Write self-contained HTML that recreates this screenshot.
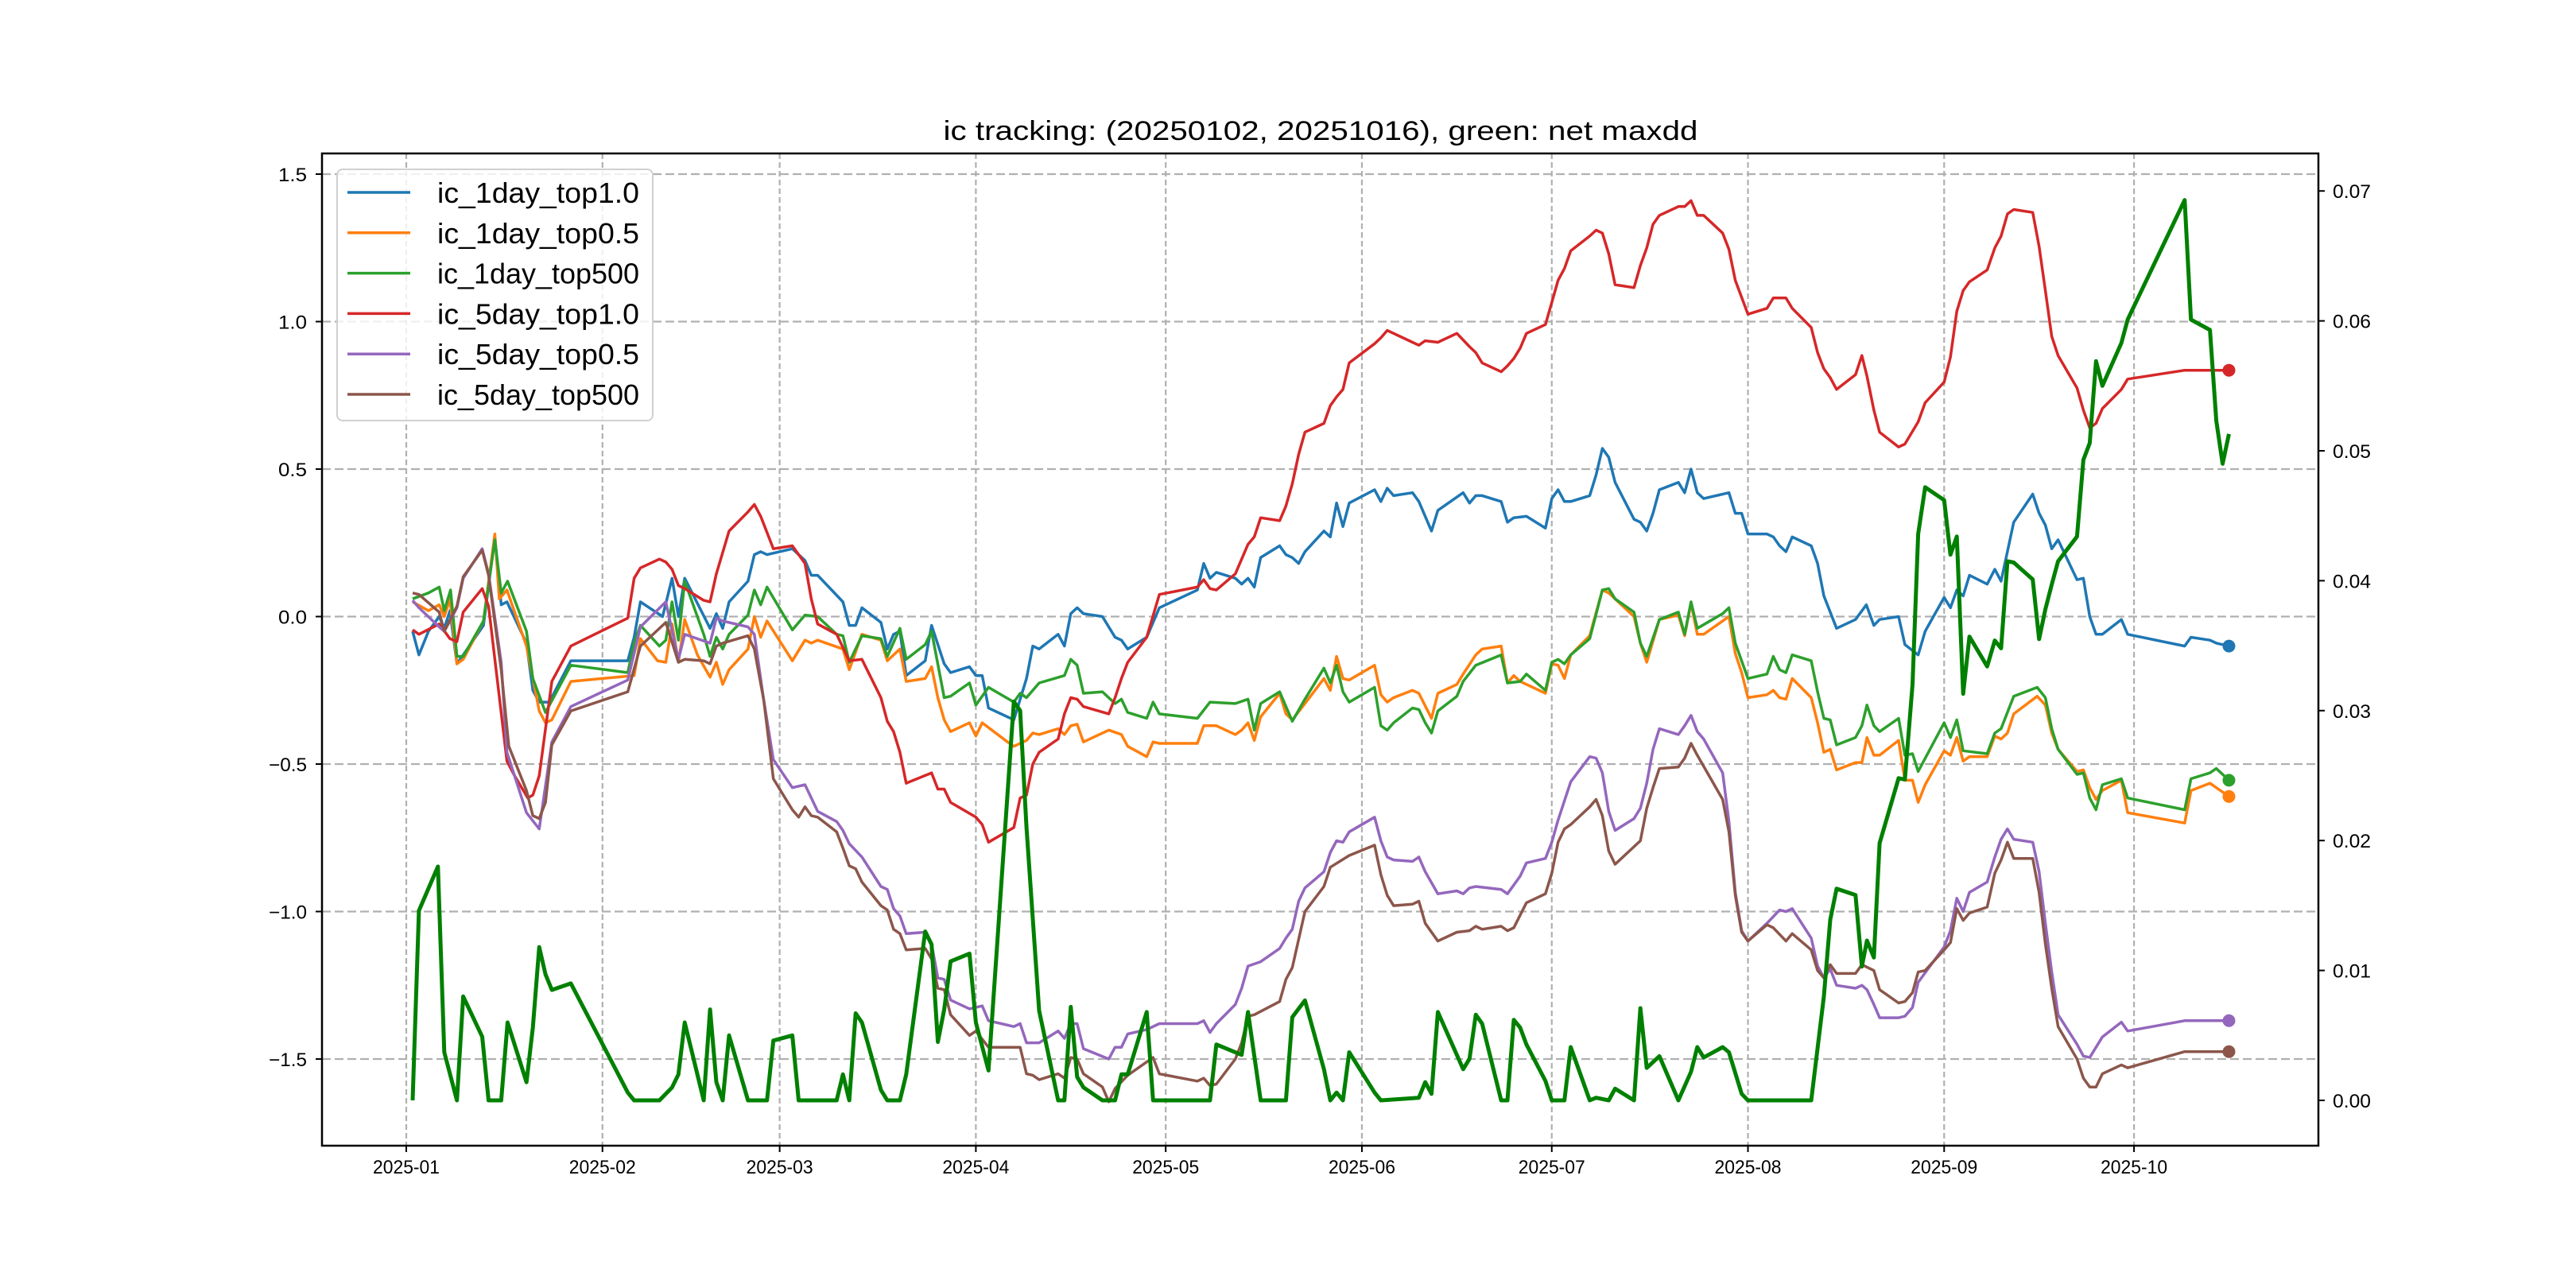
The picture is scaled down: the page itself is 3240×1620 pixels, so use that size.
<!DOCTYPE html>
<html><head><meta charset="utf-8"><title>ic tracking</title>
<style>html,body{margin:0;padding:0;background:#fff;}svg{display:block;}
text{font-family:"Liberation Sans","WenQuanYi Zen Hei",sans-serif;fill:#000;}</style></head>
<body>
<svg id="chart" width="3240" height="1620" viewBox="0 0 3240 1620" xmlns="http://www.w3.org/2000/svg">
<rect x="0" y="0" width="3240" height="1620" fill="#fff"/>
<text x="1661" y="176" font-size="34" text-anchor="middle" textLength="949" lengthAdjust="spacingAndGlyphs">ic tracking: (20250102, 20251016), green: net maxdd</text>
<g id="grid"></g>
<g id="series"></g>
<g id="axes"></g>
<g id="legend"></g>
</svg>
<script>
const monthLabels=["2025-01","2025-02","2025-03","2025-04","2025-05","2025-06","2025-07","2025-08","2025-09","2025-10"];
const monthDays=[0,31,59,90,120,151,181,212,243,273];
const leftTicks=[1.5,1.0,0.5,0.0,-0.5,-1.0,-1.5];
const rightTicks=[0,0.01,0.02,0.03,0.04,0.05,0.06,0.07];
const seriesNames=["ic_1day_top1.0","ic_1day_top0.5","ic_1day_top500","ic_5day_top1.0","ic_5day_top0.5","ic_5day_top500"];
const seriesColors=["#1f77b4","#ff7f0e","#2ca02c","#d62728","#9467bd","#8c564b"];
const blue=[[1,-0.05],[2,-0.13],[3.5,-0.05],[5.2,0],[6,-0.04],[6.9,0.02],[8,-0.16],[9,-0.13],[12.2,-0.03],[14,0.27],[15,0.04],[15.9,0.05],[19,-0.09],[20,-0.25],[21,-0.29],[22.6,-0.29],[26,-0.15],[35,-0.15],[36,-0.07],[37,0.05],[40.5,0],[42,0.13],[43,0],[44,0.13],[48,-0.04],[49,0.01],[50,-0.04],[51,0.05],[54,0.12],[55,0.21],[56,0.22],[57,0.21],[59,0.22],[61,0.23],[63,0.19],[64,0.14],[65,0.14],[69,0.05],[70,-0.03],[71,-0.03],[72,0.03],[75,-0.02],[76,-0.11],[77,-0.06],[78,-0.05],[79,-0.2],[82,-0.15],[83,-0.03],[85,-0.16],[86,-0.19],[89,-0.17],[90,-0.2],[91,-0.2],[92,-0.31],[96,-0.35],[98,-0.21],[99,-0.1],[100,-0.11],[103,-0.06],[104,-0.1],[105,0.01],[106,0.03],[107,0.01],[110,0],[112,-0.07],[113,-0.08],[114,-0.11],[117,-0.07],[119,0.03],[125,0.09],[126,0.18],[127,0.13],[128,0.15],[131,0.13],[132,0.11],[133,0.13],[134,0.1],[135,0.2],[138,0.24],[139,0.21],[140,0.2],[141,0.18],[142,0.22],[145,0.29],[146,0.27],[147,0.385],[148,0.305],[149,0.385],[153,0.43],[154,0.39],[155,0.435],[156,0.41],[159,0.42],[160,0.39],[162,0.29],[163,0.36],[167,0.42],[168,0.385],[169,0.41],[170,0.41],[173,0.39],[174,0.32],[175,0.335],[177,0.34],[180,0.3],[181,0.4],[182,0.43],[183,0.39],[184,0.39],[187,0.41],[188,0.48],[189,0.57],[190,0.54],[191,0.455],[194,0.33],[195,0.32],[196,0.29],[197,0.35],[198,0.43],[201,0.455],[202,0.42],[203,0.5],[204,0.42],[205,0.4],[209,0.42],[210,0.35],[211,0.35],[212,0.28],[215,0.28],[216,0.27],[217,0.24],[218,0.22],[219,0.27],[222,0.24],[223,0.18],[224,0.07],[226,-0.04],[229,-0.01],[230.7,0.04],[231.9,-0.03],[232.8,-0.01],[235.8,0],[236.8,-0.095],[238.9,-0.13],[240,-0.05],[243,0.065],[244,0.03],[245,0.09],[246,0.07],[247,0.14],[249.8,0.11],[251,0.16],[252,0.12],[254,0.32],[257,0.415],[258,0.35],[259,0.31],[260,0.23],[261,0.26],[264,0.125],[265,0.13],[266,0],[267,-0.06],[268,-0.06],[271,-0.01],[272,-0.06],[281,-0.1],[282,-0.07],[285,-0.08],[286,-0.09],[288,-0.1]];
const orange=[[1,0.05],[3.5,0.02],[5.2,0.04],[6,0],[6.9,0.06],[8,-0.16],[9,-0.145],[12.2,-0.015],[14,0.28],[14.7,0.06],[15.9,0.09],[19,-0.1],[21,-0.32],[22,-0.36],[23,-0.35],[26,-0.22],[36,-0.2],[37,-0.075],[39.7,-0.15],[41,-0.155],[42,-0.025],[43,-0.155],[44,-0.01],[46,-0.13],[48,-0.205],[49,-0.155],[50,-0.23],[51,-0.18],[54,-0.11],[55,0],[56,-0.07],[57,-0.015],[61,-0.15],[63,-0.08],[64,-0.09],[65,-0.08],[69,-0.11],[70,-0.18],[72,-0.06],[75,-0.08],[76,-0.15],[78,-0.11],[79,-0.22],[82,-0.21],[83,-0.17],[84,-0.275],[85,-0.35],[86,-0.39],[89,-0.36],[90,-0.405],[91,-0.36],[95,-0.425],[96,-0.44],[98,-0.42],[99,-0.395],[100,-0.4],[103,-0.38],[104,-0.4],[105,-0.37],[106,-0.365],[107,-0.425],[111,-0.385],[113,-0.4],[114,-0.44],[117,-0.475],[118,-0.425],[119,-0.43],[125,-0.43],[126,-0.37],[128,-0.37],[131,-0.4],[132,-0.385],[133,-0.36],[134,-0.42],[135,-0.34],[138,-0.26],[139,-0.33],[140,-0.35],[142,-0.295],[145,-0.21],[146,-0.25],[147,-0.135],[148,-0.21],[149,-0.215],[153,-0.165],[154,-0.265],[155,-0.29],[156,-0.275],[159,-0.25],[160,-0.26],[162,-0.345],[163,-0.26],[166,-0.23],[167,-0.195],[169,-0.13],[170,-0.11],[173,-0.1],[174,-0.225],[175,-0.2],[176,-0.22],[180,-0.26],[181,-0.16],[182,-0.165],[183,-0.21],[184,-0.13],[187,-0.065],[189,0.09],[190,0.08],[194,0],[195,-0.09],[196,-0.155],[198,-0.01],[201,0.005],[202,-0.065],[203,0.045],[204,-0.06],[205,-0.06],[209,0],[210,-0.125],[211,-0.19],[212,-0.275],[215,-0.265],[216,-0.25],[217,-0.275],[218,-0.28],[219,-0.21],[222,-0.275],[223,-0.36],[224,-0.46],[225,-0.45],[226,-0.52],[229,-0.495],[230,-0.495],[230.8,-0.41],[231.9,-0.47],[232.8,-0.47],[235.8,-0.42],[236.8,-0.555],[238,-0.555],[238.9,-0.63],[240,-0.57],[243,-0.455],[244,-0.47],[245,-0.41],[246,-0.49],[247,-0.475],[249.8,-0.475],[251,-0.405],[252,-0.415],[253,-0.395],[254,-0.33],[257.7,-0.27],[259,-0.3],[260,-0.395],[261,-0.45],[264,-0.525],[265,-0.52],[266,-0.58],[267,-0.62],[268,-0.59],[271,-0.555],[272,-0.665],[281,-0.7],[282,-0.59],[285,-0.565],[286,-0.58],[288,-0.61]];
const green=[[1,0.06],[3.5,0.08],[5.2,0.1],[6,0.02],[7,0.09],[8,-0.135],[9,-0.135],[12.2,-0.015],[14,0.26],[15,0.08],[16,0.12],[19,-0.05],[20,-0.21],[22,-0.325],[26,-0.165],[35,-0.19],[36,-0.09],[37,-0.03],[40,-0.1],[41,-0.08],[42,0.05],[43,-0.08],[44,0.12],[47,-0.06],[48,-0.135],[49,-0.07],[50,-0.11],[51,-0.06],[54,0.005],[55,0.09],[56,0.04],[57,0.1],[61,-0.045],[63,0.005],[65,0],[68,-0.06],[69,-0.065],[70,-0.155],[72,-0.065],[75,-0.075],[76,-0.135],[78,-0.04],[79,-0.145],[82,-0.095],[83,-0.05],[85,-0.275],[86,-0.27],[89,-0.225],[90,-0.3],[92,-0.24],[96,-0.29],[97,-0.26],[98,-0.275],[100,-0.225],[104,-0.2],[105,-0.145],[106,-0.165],[107,-0.26],[110,-0.255],[112,-0.295],[113,-0.28],[114,-0.325],[117,-0.345],[118,-0.29],[119,-0.33],[125,-0.345],[127,-0.29],[131,-0.295],[133,-0.28],[134,-0.385],[135,-0.295],[138,-0.255],[140,-0.355],[142,-0.28],[145,-0.175],[146,-0.225],[147,-0.165],[148,-0.255],[149,-0.29],[153,-0.24],[154,-0.37],[155,-0.385],[156,-0.36],[159,-0.31],[160,-0.315],[161,-0.36],[162,-0.395],[163,-0.32],[166,-0.27],[167,-0.22],[169,-0.165],[173,-0.13],[174,-0.225],[176,-0.22],[177,-0.195],[180,-0.25],[181,-0.155],[182,-0.145],[183,-0.16],[184,-0.13],[187,-0.075],[189,0.09],[190,0.095],[191,0.06],[194,0.015],[195,-0.09],[196,-0.135],[198,-0.01],[201,0.015],[202,-0.06],[203,0.05],[204,-0.04],[208,0.01],[209,0.03],[210,-0.09],[212,-0.21],[215,-0.195],[216,-0.135],[217,-0.18],[218,-0.19],[219,-0.13],[222,-0.15],[223,-0.255],[224,-0.345],[225,-0.35],[226,-0.435],[229,-0.41],[230,-0.37],[230.8,-0.3],[231.9,-0.37],[232.8,-0.39],[235.8,-0.345],[236.8,-0.47],[238,-0.465],[238.9,-0.525],[243,-0.36],[244,-0.41],[245,-0.35],[246,-0.455],[249.8,-0.465],[251,-0.395],[252,-0.38],[254,-0.27],[257.7,-0.24],[259,-0.275],[260,-0.38],[261,-0.45],[264,-0.535],[265,-0.53],[266,-0.615],[267,-0.655],[268,-0.57],[271,-0.55],[272,-0.615],[281,-0.655],[282,-0.55],[285,-0.53],[286,-0.515],[288,-0.555]];
const red=[[1,-0.045],[2,-0.06],[5.2,-0.025],[6.9,-0.075],[8,-0.085],[9,0.015],[12,0.095],[13,0.035],[15.9,-0.49],[17,-0.535],[19.2,-0.615],[20,-0.605],[21,-0.54],[23,-0.22],[26,-0.1],[35,-0.005],[36,0.13],[37,0.165],[40,0.195],[41,0.185],[42,0.16],[43,0.105],[44,0.095],[47,0.055],[48,0.05],[49,0.145],[51,0.29],[54,0.355],[55,0.38],[56,0.34],[58,0.23],[61,0.24],[63,0.18],[64,0.06],[65,-0.025],[68,-0.06],[70,-0.15],[72,-0.145],[75,-0.275],[76,-0.355],[77,-0.39],[78,-0.46],[79,-0.565],[83,-0.53],[84,-0.585],[85,-0.585],[86,-0.63],[90,-0.68],[91,-0.705],[92,-0.765],[96,-0.715],[97,-0.615],[98,-0.605],[99,-0.5],[100,-0.46],[103,-0.415],[104,-0.33],[105,-0.275],[106,-0.28],[107,-0.305],[111,-0.33],[112,-0.275],[113,-0.21],[114,-0.155],[117,-0.07],[119,0.075],[125,0.1],[126,0.125],[127,0.095],[128,0.09],[131,0.145],[133,0.245],[134,0.27],[135,0.335],[138,0.325],[139,0.375],[140,0.45],[141,0.55],[142,0.625],[145,0.655],[146,0.715],[147,0.745],[148,0.77],[149,0.86],[153,0.925],[154,0.945],[155,0.97],[159,0.93],[160,0.92],[161,0.935],[163,0.93],[166,0.96],[168,0.915],[169,0.895],[170,0.86],[173,0.83],[174,0.85],[175,0.875],[176,0.91],[177,0.96],[180,0.99],[181,1.065],[182,1.14],[183,1.18],[184,1.24],[187,1.29],[188,1.31],[189,1.3],[190,1.23],[191,1.125],[194,1.115],[195,1.19],[196,1.25],[197,1.33],[198,1.36],[201,1.39],[202,1.39],[203,1.41],[204,1.36],[205,1.36],[208,1.3],[209,1.245],[210,1.14],[212,1.025],[215,1.045],[216,1.08],[218,1.08],[219,1.045],[222,0.98],[223,0.895],[224,0.84],[225,0.81],[226,0.77],[229,0.82],[230,0.885],[230.8,0.815],[231.9,0.7],[232.8,0.625],[235.8,0.575],[236.8,0.585],[238.9,0.66],[240,0.725],[243,0.795],[244,0.88],[245,1.035],[246,1.105],[247,1.135],[249.8,1.175],[251,1.25],[252,1.29],[253,1.365],[254,1.38],[257,1.37],[258,1.255],[259,1.105],[260,0.95],[261,0.885],[264,0.775],[265,0.7],[266,0.64],[267,0.655],[268,0.705],[271,0.77],[272,0.805],[281,0.835],[288,0.835]];
const purple=[[1,0.055],[2,0.03],[5.2,-0.035],[6,-0.05],[8,0.03],[9,0.13],[12,0.23],[13,0.145],[15,-0.155],[15.9,-0.46],[19,-0.665],[21,-0.72],[23,-0.425],[26,-0.305],[35,-0.215],[37,-0.035],[41,0.05],[43,-0.145],[44,-0.06],[48,-0.09],[49,-0.005],[50,-0.015],[54,-0.035],[55,-0.06],[56.5,-0.285],[58,-0.485],[61,-0.58],[63,-0.57],[65,-0.66],[68,-0.695],[69,-0.725],[70,-0.77],[72,-0.815],[75,-0.915],[76,-0.925],[77,-0.99],[78,-1.015],[79,-1.075],[82,-1.07],[83,-1.11],[84,-1.225],[85,-1.23],[86,-1.3],[89,-1.33],[91,-1.32],[92,-1.37],[96,-1.39],[97,-1.38],[98,-1.445],[100,-1.445],[103,-1.405],[104,-1.43],[105,-1.38],[106,-1.38],[107,-1.465],[111,-1.5],[112,-1.46],[113,-1.46],[114,-1.415],[117,-1.4],[119,-1.38],[125,-1.38],[126,-1.37],[127,-1.41],[128,-1.38],[131,-1.315],[132,-1.26],[133,-1.185],[135,-1.17],[138,-1.125],[139,-1.09],[140,-1.06],[141,-0.965],[142,-0.92],[145,-0.865],[146,-0.8],[147,-0.76],[148,-0.765],[149,-0.73],[153,-0.68],[154,-0.76],[155,-0.815],[156,-0.825],[159,-0.83],[160,-0.815],[161,-0.865],[163,-0.94],[166,-0.93],[167,-0.94],[168,-0.92],[169,-0.915],[173,-0.925],[174,-0.94],[176,-0.88],[177,-0.835],[180,-0.82],[181,-0.765],[182,-0.69],[184,-0.56],[187,-0.475],[188,-0.48],[189,-0.53],[190,-0.66],[191,-0.725],[194,-0.685],[195,-0.65],[196,-0.565],[197,-0.45],[198,-0.38],[201,-0.4],[202,-0.37],[203,-0.335],[204,-0.39],[205,-0.415],[208,-0.53],[209,-0.695],[210,-0.935],[211,-1.065],[212,-1.1],[215,-1.04],[217,-0.995],[218,-1.0],[219,-0.99],[222,-1.09],[223,-1.185],[224,-1.225],[225,-1.195],[226,-1.25],[229,-1.26],[230,-1.25],[230.8,-1.265],[231.9,-1.315],[232.8,-1.36],[235.8,-1.36],[236.8,-1.355],[238,-1.325],[238.9,-1.24],[243,-1.12],[244,-1.065],[245,-0.955],[246,-1.0],[247,-0.935],[249.8,-0.9],[251,-0.815],[252,-0.755],[253,-0.72],[254,-0.755],[257,-0.765],[258,-0.865],[259,-1.04],[260,-1.205],[261,-1.35],[264,-1.45],[265,-1.49],[266,-1.495],[267,-1.46],[268,-1.425],[271,-1.375],[272,-1.405],[281,-1.37],[288,-1.37]];
const brown=[[1,0.08],[2,0.075],[5.2,0.015],[6,-0.05],[8,0.035],[9,0.135],[12,0.225],[13,0.14],[15,-0.18],[16.2,-0.44],[19,-0.59],[20,-0.675],[21,-0.685],[22,-0.63],[23,-0.435],[26,-0.32],[35,-0.255],[37,-0.1],[41,-0.02],[43,-0.155],[44,-0.145],[47,-0.15],[48,-0.16],[49,-0.1],[50,-0.09],[54,-0.065],[55,-0.11],[56.5,-0.285],[58,-0.55],[61,-0.655],[62,-0.68],[63,-0.645],[64,-0.675],[65,-0.68],[68,-0.73],[69,-0.785],[70,-0.845],[71,-0.855],[72,-0.9],[75,-0.98],[76,-0.995],[77,-1.06],[78,-1.075],[79,-1.13],[82,-1.125],[83,-1.16],[84,-1.26],[85,-1.265],[86,-1.35],[89,-1.42],[90,-1.405],[92,-1.46],[97,-1.46],[98,-1.55],[99,-1.555],[100,-1.57],[103,-1.55],[104,-1.565],[105,-1.495],[106,-1.5],[107,-1.55],[110,-1.595],[111,-1.645],[112,-1.6],[114,-1.555],[118,-1.495],[119,-1.55],[125,-1.575],[126,-1.565],[127,-1.59],[128,-1.585],[131,-1.5],[132,-1.445],[133,-1.355],[134,-1.35],[138,-1.305],[139,-1.23],[140,-1.19],[142,-1.0],[145,-0.915],[146,-0.85],[149,-0.81],[153,-0.775],[154,-0.875],[155,-0.945],[156,-0.98],[159,-0.975],[160,-0.965],[161,-1.04],[163,-1.1],[166,-1.07],[168,-1.065],[169,-1.05],[170,-1.06],[173,-1.05],[174,-1.065],[175,-1.055],[177,-0.97],[180,-0.94],[181,-0.87],[182,-0.765],[183,-0.72],[184,-0.705],[187,-0.645],[188,-0.62],[189,-0.675],[190,-0.795],[191,-0.84],[195,-0.76],[196,-0.65],[197,-0.58],[198,-0.515],[201,-0.51],[202,-0.48],[203,-0.43],[204,-0.47],[208,-0.62],[209,-0.73],[210,-0.945],[211,-1.07],[212,-1.1],[215,-1.045],[216,-1.055],[218,-1.1],[219,-1.075],[222,-1.13],[223,-1.2],[224,-1.225],[225,-1.18],[226,-1.21],[229,-1.21],[230,-1.18],[231.9,-1.2],[232.8,-1.265],[235.8,-1.31],[236.8,-1.305],[238,-1.275],[238.9,-1.205],[240,-1.2],[243,-1.13],[244,-1.105],[245,-0.99],[246,-1.03],[247,-1.005],[249.8,-0.985],[251,-0.87],[252,-0.825],[253,-0.765],[254,-0.82],[257,-0.82],[258,-0.935],[259,-1.11],[260,-1.26],[261,-1.39],[264,-1.5],[265,-1.565],[266,-1.595],[267,-1.595],[268,-1.55],[271,-1.52],[272,-1.53],[281,-1.475],[288,-1.475]];
const maxdd=[[1,0],[2,0.0146],[5,0.018],[6,0.0037],[8,0],[9,0.008],[12,0.0049],[13,0],[15,0],[16,0.006],[19,0.0014],[20,0.0056],[21,0.0118],[22,0.0097],[23,0.0085],[26,0.009],[35,0.0006],[36,0],[40,0],[42,0.001],[43,0.002],[44,0.006],[47,0],[48,0.007],[49,0.0014],[50,0],[51,0.005],[54,0],[57,0],[58,0.0046],[61,0.005],[62,0],[68,0],[69,0.002],[70,0],[71,0.0067],[72,0.006],[75,0.0008],[76,0],[78,0],[79,0.002],[82,0.013],[83,0.012],[84,0.0045],[85,0.007],[86,0.0107],[89,0.0113],[90,0.006],[92,0.0023],[96,0.0307],[97,0.03],[98,0.021],[100,0.0069],[103,0],[104,0],[105,0.0072],[106,0.0018],[107,0.001],[110,0],[112,0],[113,0.002],[114,0.002],[117,0.0068],[118,0],[127,0],[128,0.0043],[132,0.0035],[133,0.0068],[135,0],[139,0],[140,0.0064],[142,0.0077],[145,0.0024],[146,0],[147,0.0006],[148,0],[149,0.0037],[153,0.0006],[154,0],[160,0.0002],[161,0.0014],[162,0.0005],[163,0.0068],[167,0.0024],[168,0.0032],[169,0.0066],[170,0.0059],[173,0],[174,0],[175,0.0062],[176,0.0056],[177,0.0043],[180,0.0015],[181,0],[183,0],[184,0.0041],[187,0],[188,0.0002],[190,0],[191,0.0009],[194,0],[195,0.0071],[196,0.0025],[198,0.0034],[201,0],[203,0.0022],[204,0.0041],[205,0.0033],[208,0.0041],[209,0.0037],[211,0.0005],[212,0],[222,0],[224,0.008],[225,0.0139],[226,0.0163],[229,0.0158],[230,0.0103],[230.8,0.0123],[231.9,0.011],[232.8,0.0198],[235.8,0.0248],[236.8,0.0247],[238,0.032],[238.9,0.0436],[240,0.0472],[243,0.0462],[244,0.042],[245,0.0434],[246,0.0313],[247,0.0357],[249.8,0.0334],[251,0.0354],[252,0.0348],[253,0.0415],[254,0.0414],[257,0.0401],[258,0.0355],[259,0.0378],[260,0.0397],[261,0.0415],[264,0.0434],[265,0.0493],[266,0.0506],[267,0.0569],[268,0.055],[271,0.0583],[272,0.0601],[281,0.0693],[282,0.0601],[285,0.0593],[286,0.0523],[287,0.049],[288,0.0513]];

const NS="http://www.w3.org/2000/svg";
const PL=405,PR=2916,PT=193,PB=1441;
function xOf(d){return 511+7.96*d;}
function yL(v){return 775.5-371*v;}
function yR(r){return 1384-16340*r;}
function mk(tag,attrs,parent){const e=document.createElementNS(NS,tag);for(const k in attrs)e.setAttribute(k,attrs[k]);parent.appendChild(e);return e;}
const grid=document.getElementById('grid'),ser=document.getElementById('series'),axes=document.getElementById('axes'),leg=document.getElementById('legend');

monthDays.forEach((d,i)=>{
  const x=xOf(d);
  const g=mk('line',{x1:x,x2:x,y1:PT,y2:PB,stroke:'#b0b0b0','stroke-width':2.2,'stroke-dasharray':'7,4'},grid);
  
  
  const t=mk('line',{x1:x,x2:x,y1:PB,y2:PB+8,stroke:'#000','stroke-width':2},axes);
  
  
  const l=mk('text',{x:x,y:1476,'font-size':24,'text-anchor':'middle',textLength:84,lengthAdjust:'spacingAndGlyphs'},axes);
  l.textContent=monthLabels[i];
  
  
});
leftTicks.forEach(v=>{
  const y=yL(v);
  const g=mk('line',{x1:PL,x2:PR,y1:y,y2:y,stroke:'#b0b0b0','stroke-width':2.2,'stroke-dasharray':'11,5'},grid);
  
  
  const t=mk('line',{x1:PL-8,x2:PL,y1:y,y2:y,stroke:'#000','stroke-width':2},axes);
  
  
  const s=(v<0?'\u2212':'')+Math.abs(v).toFixed(1);
  const l=mk('text',{x:PL-19,y:y+9,'font-size':24,'text-anchor':'end',textLength:s.length*12,lengthAdjust:'spacingAndGlyphs'},axes);
  l.textContent=s;
  
  
});
rightTicks.forEach(v=>{
  const y=yR(v);
  const t=mk('line',{x1:PR,x2:PR+8,y1:y,y2:y,stroke:'#000','stroke-width':2},axes);
  
  
  const l=mk('text',{x:PR+18,y:y+9,'font-size':24,textLength:48,lengthAdjust:'spacingAndGlyphs'},axes);
  l.textContent=v.toFixed(2);
  
  
});

const allSeries=[blue,orange,green,red,purple,brown];
allSeries.forEach((s,i)=>{
  const pts=s.map(p=>xOf(p[0]).toFixed(1)+','+yL(p[1]).toFixed(1)).join(' ');
  const pl=mk('polyline',{points:pts,fill:'none',stroke:seriesColors[i],'stroke-width':3.5,'stroke-linejoin':'round'},ser);
  
  
  const last=s[s.length-1];
  const c=mk('circle',{cx:xOf(last[0]),cy:yL(last[1]),r:8,fill:seriesColors[i]},ser);
  
  
});
const mpts=maxdd.map(p=>xOf(p[0]).toFixed(1)+','+yR(p[1]).toFixed(1)).join(' ');
const mline=mk('polyline',{points:mpts,fill:'none',stroke:'#008000','stroke-width':5,'stroke-linejoin':'round'},ser);



const frame=mk('rect',{x:PL,y:PT,width:PR-PL,height:PB-PT,fill:'none',stroke:'#000','stroke-width':2.5},axes);



const box=mk('rect',{x:424,y:213,width:397,height:316,rx:7,fill:'#fff','fill-opacity':0.8,stroke:'#d0d0d0','stroke-width':2},leg);


seriesNames.forEach((n,i)=>{
  const y=242+i*50.8;
  const ln=mk('line',{x1:437,x2:516,y1:y,y2:y,stroke:seriesColors[i],'stroke-width':3.5},leg);
  
  
  const t=mk('text',{x:550,y:y+13,'font-size':36,textLength:254,lengthAdjust:'spacingAndGlyphs'},leg);
  t.textContent=n;
  
  
});
</script>
</body></html>
